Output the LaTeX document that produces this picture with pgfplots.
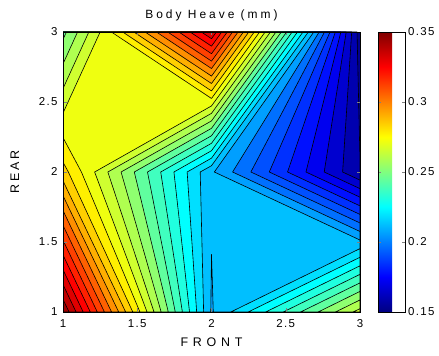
\documentclass[border=0pt]{standalone}
\usepackage{fontspec}
\setmainfont{Liberation Sans}
\newfontfamily\ttlfont{Liberation Sans}[LetterSpace=25]
\newfontfamily\xlblfont{Liberation Sans}[LetterSpace=38]
\newfontfamily\ylblfont{Liberation Sans}[LetterSpace=22]
\newfontfamily\tickfont{Liberation Sans}[LetterSpace=12]
\usepackage{pgfplots}
\pgfplotsset{compat=1.18}
\definecolor{c0}{rgb}{0,0,0.5625}
\definecolor{c1}{rgb}{0,0,0.6875}
\definecolor{c2}{rgb}{0,0,0.8125}
\definecolor{c3}{rgb}{0,0,0.9375}
\definecolor{c4}{rgb}{0,0.0625,1}
\definecolor{c5}{rgb}{0,0.1875,1}
\definecolor{c6}{rgb}{0,0.3125,1}
\definecolor{c7}{rgb}{0,0.4375,1}
\definecolor{c8}{rgb}{0,0.625,1}
\definecolor{c9}{rgb}{0,0.75,1}
\definecolor{c10}{rgb}{0,0.875,1}
\definecolor{c11}{rgb}{0,1,1}
\definecolor{c12}{rgb}{0.125,1,0.875}
\definecolor{c13}{rgb}{0.25,1,0.75}
\definecolor{c14}{rgb}{0.375,1,0.625}
\definecolor{c15}{rgb}{0.5625,1,0.4375}
\definecolor{c16}{rgb}{0.6875,1,0.3125}
\definecolor{c17}{rgb}{0.8125,1,0.1875}
\definecolor{c18}{rgb}{0.9375,1,0.0625}
\definecolor{c19}{rgb}{1,0.9375,0}
\definecolor{c20}{rgb}{1,0.8125,0}
\definecolor{c21}{rgb}{1,0.6875,0}
\definecolor{c22}{rgb}{1,0.5625,0}
\definecolor{c23}{rgb}{1,0.375,0}
\definecolor{c24}{rgb}{1,0.25,0}
\definecolor{c25}{rgb}{1,0.125,0}
\definecolor{c26}{rgb}{1,0,0}
\definecolor{c27}{rgb}{0.875,0,0}
\definecolor{c28}{rgb}{0.75,0,0}
\definecolor{c29}{rgb}{0.625,0,0}
\pgfplotsset{lv/.style={fill=#1, draw=black, line width=0.6pt, line join=round}}
\begin{document}
\begin{tikzpicture}
\begin{axis}[name=main, scale only axis, width=297bp, height=280bp,
  xmin=1, xmax=3, ymin=1, ymax=3,
  xtick={1,1.5,2,2.5,3}, ytick={1,1.5,2,2.5,3},
  tick align=inside, xtick pos=both, ytick pos=both, major tick length=3.5bp,
  axis on top, axis line style={line width=0.6pt},
  /pgf/number format/assume math mode=true,
  tick label style={font=\tickfont\fontsize{11.5}{13}\selectfont},
  xticklabel style={yshift=-4bp},
  yticklabel style={xshift=-2bp},
  title={Body Heave (mm)},
  title style={font=\ttlfont\fontsize{12}{14}\selectfont, at={(axis description cs:0.5,1)}, anchor=south, yshift=1.5bp},
  xlabel={FRONT}, ylabel={REAR},
  xlabel style={font=\xlblfont\fontsize{12.5}{14}\selectfont, at={(axis description cs:0.5,-0.107)}, anchor=center},
  ylabel style={font=\ylblfont\fontsize{12.5}{14}\selectfont, at={(axis description cs:-0.162,0.5)}, anchor=center},
  colorbar, colormap/jet, point meta min=0.15, point meta max=0.35,
  colorbar style={width=27bp, at={(main.north east)}, anchor=north west, xshift=9.5bp,
    ytick={0.15,0.2,0.25,0.3,0.35}, tick align=inside, ytick pos=both, yticklabel pos=right,
    major tick length=3bp, axis line style={line width=0.6pt},
    /pgf/number format/assume math mode=true,
    /pgf/number format/fixed, /pgf/number format/precision=2,
    yticklabel style={font=\tickfont\fontsize{11.5}{13}\selectfont, inner xsep=3bp}},
]
\addplot[fill=c0, draw=none] coordinates {(1,1) (3,1) (3,3) (1,3)} --cycle;
\addplot[lv=c1] coordinates {(1,1) (3,1) (3,2.083) (2.980,3) (1,3)} --cycle;
\addplot[lv=c2] coordinates {(1,1) (3,1) (3,1.942) (2.883,2) (2.944,3) (1,3)} --cycle;
\addplot[lv=c3] coordinates {(1,1) (3,1) (3,1.881) (2.759,2) (2.907,3) (1,3)} --cycle;
\addplot[lv=c4] coordinates {(1,1) (3,1) (3,1.820) (2.636,2) (2.871,3) (1,3)} --cycle;
\addplot[lv=c5] coordinates {(1,1) (3,1) (3,1.758) (2.512,2) (2.834,3) (1,3)} --cycle;
\addplot[lv=c6] coordinates {(1,1) (3,1) (3,1.697) (2.389,2) (2.798,3) (1,3)} --cycle;
\addplot[lv=c7] coordinates {(1,1) (3,1) (3,1.636) (2.265,2) (2.761,3) (1,3)} --cycle;
\addplot[lv=c8] coordinates {(1,1) (3,1) (3,1.575) (2.142,2) (2.725,3) (1,3)} --cycle;
\addplot[lv=c9] coordinates {(1,1) (1.995,1) (2,1.412) (2.012,1) (3,1) (3,1.514) (2.019,2) (2.689,3) (1,3)} --cycle;
\addplot[lv=c10] coordinates {(1,1) (1.947,1) (1.924,2) (2,2.045) (2.652,3) (1,3)} --cycle;
\addplot[lv=c10] coordinates {(2.130,1) (3,1) (3,1.453)} --cycle;
\addplot[lv=c11] coordinates {(1,1) (1.900,1) (1.836,2) (2,2.099) (2.616,3) (1,3)} --cycle;
\addplot[lv=c11] coordinates {(2.247,1) (3,1) (3,1.391)} --cycle;
\addplot[lv=c12] coordinates {(1,1) (1.852,1) (1.747,2) (2,2.152) (2.579,3) (1,3)} --cycle;
\addplot[lv=c12] coordinates {(2.365,1) (3,1) (3,1.330)} --cycle;
\addplot[lv=c13] coordinates {(1,1) (1.804,1) (1.658,2) (2,2.205) (2.543,3) (1,3)} --cycle;
\addplot[lv=c13] coordinates {(2.483,1) (3,1) (3,1.269)} --cycle;
\addplot[lv=c14] coordinates {(1,1) (1.756,1) (1.569,2) (2,2.259) (2.506,3) (1,3)} --cycle;
\addplot[lv=c14] coordinates {(2.600,1) (3,1) (3,1.208)} --cycle;
\addplot[lv=c15] coordinates {(1,1) (1.709,1) (1.480,2) (2,2.312) (2.470,3) (1.023,3) (1,2.947)} --cycle;
\addplot[lv=c15] coordinates {(2.718,1) (3,1) (3,1.147)} --cycle;
\addplot[lv=c16] coordinates {(1,1) (1.661,1) (1.391,2) (2,2.365) (2.434,3) (1.098,3) (1,2.772)} --cycle;
\addplot[lv=c16] coordinates {(2.835,1) (3,1) (3,1.086)} --cycle;
\addplot[lv=c17] coordinates {(1,1) (1.613,1) (1.302,2) (2,2.419) (2.397,3) (1.174,3) (1,2.596)} --cycle;
\addplot[lv=c17] coordinates {(2.953,1) (3,1) (3,1.024)} --cycle;
\addplot[lv=c18] coordinates {(1,1) (1.566,1) (1.213,2) (2,2.472) (2.361,3) (1.250,3) (1,2.421)} --cycle;
\addplot[lv=c19] coordinates {(1,1) (1.518,1) (1.124,2) (1,2.246)} --cycle;
\addplot[lv=c19] coordinates {(1.326,3) (2,2.525) (2.324,3)} --cycle;
\addplot[lv=c20] coordinates {(1,1) (1.470,1) (1.036,2) (1,2.070)} --cycle;
\addplot[lv=c20] coordinates {(1.402,3) (2,2.579) (2.288,3)} --cycle;
\addplot[lv=c21] coordinates {(1,1) (1.422,1) (1,1.937)} --cycle;
\addplot[lv=c21] coordinates {(1.477,3) (2,2.632) (2.251,3)} --cycle;
\addplot[lv=c22] coordinates {(1,1) (1.375,1) (1,1.831)} --cycle;
\addplot[lv=c22] coordinates {(1.553,3) (2,2.685) (2.215,3)} --cycle;
\addplot[lv=c23] coordinates {(1,1) (1.327,1) (1,1.725)} --cycle;
\addplot[lv=c23] coordinates {(1.629,3) (2,2.739) (2.179,3)} --cycle;
\addplot[lv=c24] coordinates {(1,1) (1.279,1) (1,1.619)} --cycle;
\addplot[lv=c24] coordinates {(1.705,3) (2,2.792) (2.142,3)} --cycle;
\addplot[lv=c25] coordinates {(1,1) (1.231,1) (1,1.513)} --cycle;
\addplot[lv=c25] coordinates {(1.780,3) (2,2.845) (2.106,3)} --cycle;
\addplot[lv=c26] coordinates {(1,1) (1.184,1) (1,1.407)} --cycle;
\addplot[lv=c26] coordinates {(1.856,3) (2,2.899) (2.069,3)} --cycle;
\addplot[lv=c27] coordinates {(1,1) (1.136,1) (1,1.302)} --cycle;
\addplot[lv=c27] coordinates {(1.932,3) (2,2.952) (2.033,3)} --cycle;
\addplot[lv=c28] coordinates {(1,1) (1.088,1) (1,1.196)} --cycle;
\addplot[lv=c29] coordinates {(1,1) (1.041,1) (1,1.090)} --cycle;
\end{axis}
\path ([xshift=-63bp,yshift=-44bp]main.south west) rectangle ([xshift=79bp,yshift=32bp]main.north east);
\end{tikzpicture}
\end{document}
